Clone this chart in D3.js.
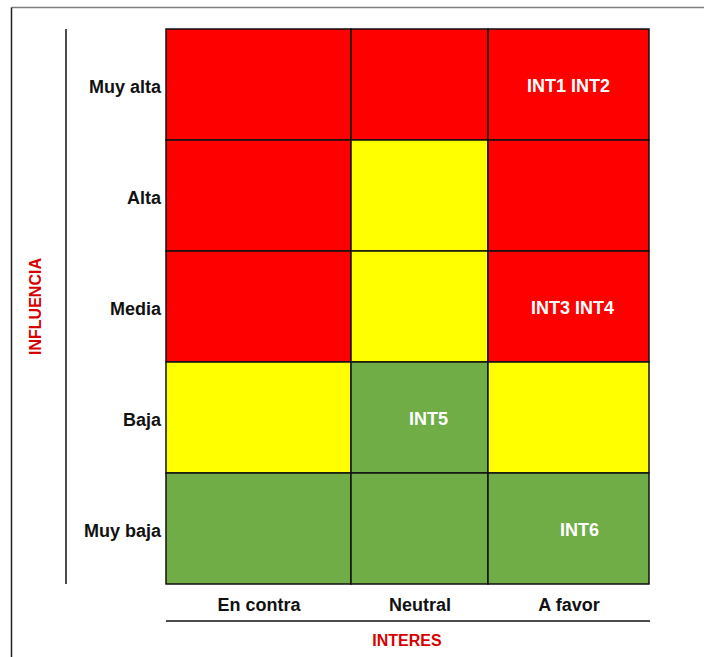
<!DOCTYPE html>
<html>
<head>
<meta charset="utf-8">
<script src="https://cdn.jsdelivr.net/npm/d3@7"></script>
<style>
  body { margin: 0; background: #fff; }
  svg { display: block; font-family: "Liberation Sans", Arial, sans-serif; }
</style>
</head>
<body>
<div id="chart"></div>
<script>
const interes = ["En contra", "Neutral", "A favor"];
const influencia = ["Muy alta", "Alta", "Media", "Baja", "Muy baja"];

// risk level per row (influencia) x column (interes)
const niveles = [
    ["alto", "alto", "alto"],
    ["alto", "medio", "alto"],
    ["alto", "medio", "alto"],
    ["medio", "bajo", "medio"],
    ["bajo", "bajo", "bajo"]
];

const interesados = [
    { influencia: "Muy alta", interes: "A favor", label: "INT1 INT2" },
    { influencia: "Media", interes: "A favor", label: "INT3 INT4" },
    { influencia: "Baja", interes: "Neutral", label: "INT5" },
    { influencia: "Muy baja", interes: "A favor", label: "INT6" }
];

const colores = { alto: "#ff0000", medio: "#ffff00", bajo: "#70ad47" };

// layout: relative column widths (the sheet columns are not equal) and label nudges
const colWeights = [185, 137, 161];
const labelShift = { "INT1 INT2": 0, "INT3 INT4": 4, "INT5": 9, "INT6": 11 };

const width = 704, height = 657;
const margin = { top: 29, right: 55, bottom: 73, left: 166 };

const svg = d3.select("#chart")
    .append("svg")
    .attr("width", width)
    .attr("height", height);

// outer frame
svg.append("line").attr("x1", 11.5).attr("x2", width).attr("y1", 7.5).attr("y2", 7.5)
    .attr("stroke", "#7f7f7f").attr("stroke-width", 1.5);
svg.append("line").attr("x1", 11.5).attr("x2", 11.5).attr("y1", 7.5).attr("y2", height)
    .attr("stroke", "#222").attr("stroke-width", 1.5);

// x: cumulative weights mapped through a linear scale
const cum = [0, ...Array.from(d3.cumsum(colWeights))];
const xLin = d3.scaleLinear().domain([0, d3.sum(colWeights)]).range([margin.left, width - margin.right]);
const xStart = c => xLin(cum[interes.indexOf(c)]);
const xEnd = c => xLin(cum[interes.indexOf(c) + 1]);
const xMid = c => (xStart(c) + xEnd(c)) / 2;

const yScale = d3.scaleBand().domain(influencia).range([margin.top, height - margin.bottom]);

const cells = [];
influencia.forEach((row, i) => interes.forEach((col, j) => cells.push({ row, col, nivel: niveles[i][j] })));

svg.append("g")
    .selectAll("rect")
    .data(cells)
    .enter()
    .append("rect")
    .attr("x", d => xStart(d.col))
    .attr("y", d => yScale(d.row))
    .attr("width", d => xEnd(d.col) - xStart(d.col))
    .attr("height", yScale.bandwidth())
    .attr("fill", d => colores[d.nivel])
    .attr("stroke", "#111")
    .attr("stroke-width", 1.5);

svg.append("g")
    .selectAll("text")
    .data(interesados)
    .enter()
    .append("text")
    .attr("x", d => xMid(d.interes) + labelShift[d.label])
    .attr("y", d => yScale(d.influencia) + yScale.bandwidth() / 2)
    .attr("dy", "0.42em")
    .attr("text-anchor", "middle")
    .attr("fill", "#fff")
    .attr("font-weight", "bold")
    .attr("font-size", 18)
    .text(d => d.label);

// y axis
const yAxis = d3.axisLeft(yScale).tickSize(0).tickPadding(5);
const gy = svg.append("g")
    .attr("transform", `translate(${margin.left},0)`)
    .call(yAxis);
gy.select("path").remove();
gy.selectAll("text")
    .attr("dy", "0.45em")
    .attr("font-family", "Liberation Sans, Arial, sans-serif")
    .attr("font-size", 18)
    .attr("font-weight", "bold")
    .attr("fill", "#111");

svg.append("line")
    .attr("x1", 66).attr("x2", 66)
    .attr("y1", yScale.range()[0]).attr("y2", yScale.range()[1])
    .attr("stroke", "#111").attr("stroke-width", 1.5);

// x axis labels (own positions, since the columns are unequal)
const xAxisScale = d3.scaleOrdinal().domain(interes).range(interes.map(xMid));
const xAxis = d3.axisBottom(xAxisScale).tickSize(0).tickPadding(14);
const gx = svg.append("g")
    .attr("transform", `translate(0,${height - margin.bottom})`)
    .call(xAxis);
gx.select("path").remove();
gx.selectAll("text")
    .attr("font-family", "Liberation Sans, Arial, sans-serif")
    .attr("font-size", 18)
    .attr("font-weight", "bold")
    .attr("fill", "#111");

svg.append("line")
    .attr("x1", xLin.range()[0]).attr("x2", xLin.range()[1] + 1)
    .attr("y1", 621).attr("y2", 621)
    .attr("stroke", "#111").attr("stroke-width", 1.5);

// axis titles
svg.append("text")
    .attr("x", 407)
    .attr("y", 646)
    .attr("text-anchor", "middle")
    .attr("fill", "#d60000")
    .attr("font-weight", "bold")
    .attr("font-size", 16)
    .text("INTERES");

svg.append("text")
    .attr("transform", `translate(41,${(yScale.range()[0] + yScale.range()[1]) / 2}) rotate(-90)`)
    .attr("text-anchor", "middle")
    .attr("fill", "#d60000")
    .attr("font-weight", "bold")
    .attr("font-size", 16)
    .text("INFLUENCIA");
</script>
</body>
</html>
